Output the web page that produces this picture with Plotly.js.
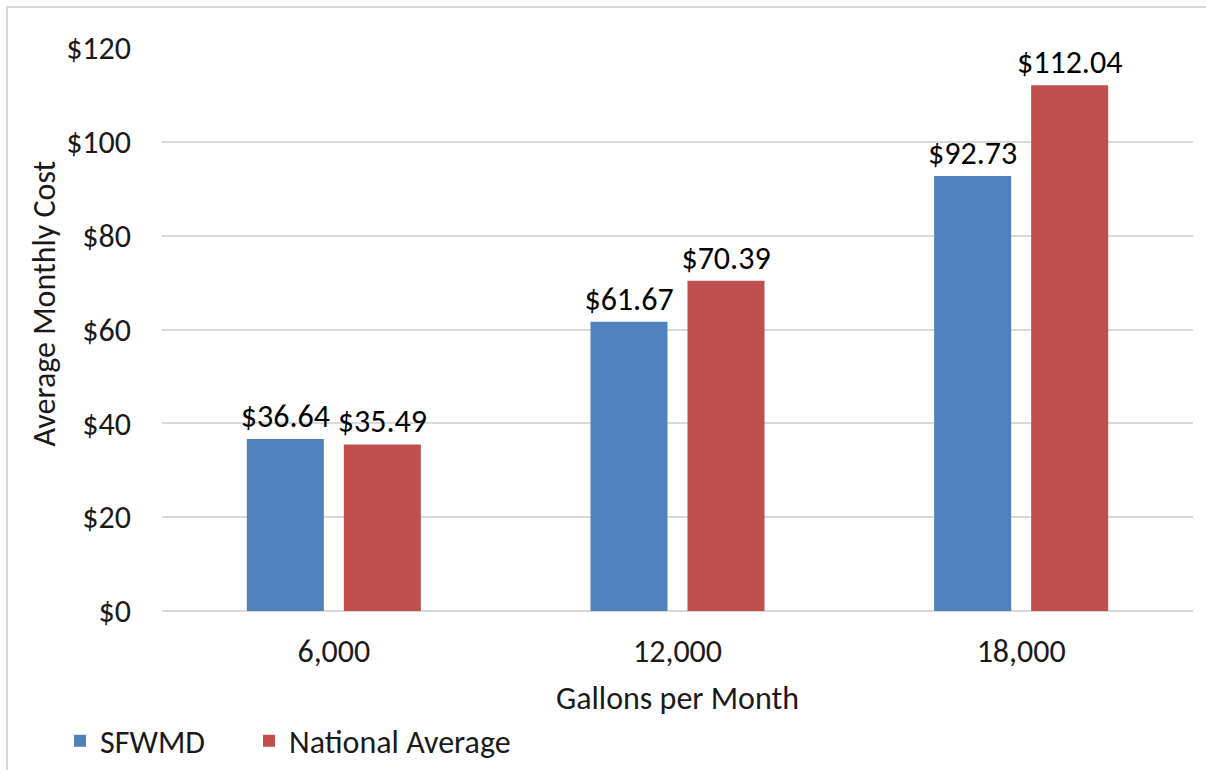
<!DOCTYPE html>
<html>
<head>
<meta charset="utf-8">
<script src="https://cdn.plot.ly/plotly-3.0.1.min.js"></script>
<style>
  html, body { margin: 0; padding: 0; background: #ffffff; }
  #chart { width: 1206px; height: 770px; }
</style>
</head>
<body>
<div id="chart"></div>
<script>
const categories = ["6,000", "12,000", "18,000"];
const sfwmd = [36.64, 61.67, 92.73];
const nationalAverage = [35.49, 70.39, 112.04];
const seriesNames = ["SFWMD", "National Average"];
const yTickValues = [0, 20, 40, 60, 80, 100, 120];
const yTickLabels = ["$0", "$20", "$40", "$60", "$80", "$100", "$120"];

const FONT = "Carlito, Calibri, 'Open Sans', sans-serif";
const FS = 32;

const traces = [
  {
    type: "bar", name: seriesNames[0], x: categories, y: sfwmd,
    marker: { color: "#4F81BD" },
    texttemplate: "$%{y:.2f}", textposition: "outside", cliponaxis: false,
    constraintext: "none",
    textfont: { family: FONT, size: FS, color: "#000000" },
    hoverinfo: "skip",
    legend: "legend"
  },
  {
    type: "bar", name: seriesNames[1], x: categories, y: nationalAverage,
    marker: { color: "#C0504D" },
    texttemplate: "$%{y:.2f}", textposition: "outside", cliponaxis: false,
    constraintext: "none",
    textfont: { family: FONT, size: FS, color: "#000000" },
    hoverinfo: "skip",
    legend: "legend2"
  }
];

const legendBase = {
  orientation: "h",
  yanchor: "middle", y: -0.231,
  xanchor: "left",
  font: { family: FONT, size: FS, color: "#1a1a1a" },
  bgcolor: "rgba(0,0,0,0)"
};

const layout = {
  width: 1206, height: 770,
  margin: { l: 162, r: 13, t: 48, b: 159, autoexpand: false },
  paper_bgcolor: "#ffffff", plot_bgcolor: "#ffffff",
  font: { family: FONT, size: FS, color: "#1a1a1a" },
  barmode: "group",
  bargap: 0.4355,
  bargroupgap: 0.206,
  showlegend: true,
  legend: Object.assign({}, legendBase, { x: -0.0989 }),
  legend2: Object.assign({}, legendBase, { x: 0.0844 }),
  xaxis: {
    type: "category",
    showgrid: false, zeroline: false, showline: false,
    ticks: "", ticklabelstandoff: 18,
    tickfont: { family: FONT, size: FS, color: "#1a1a1a" },
    title: { text: "Gallons per Month", font: { family: FONT, size: FS, color: "#1a1a1a" }, standoff: 16 }
  },
  yaxis: {
    range: [0, 120],
    tickvals: yTickValues, ticktext: yTickLabels,
    showgrid: true, gridcolor: "#D9D9D9", gridwidth: 2,
    zeroline: true, zerolinecolor: "#D9D9D9", zerolinewidth: 2,
    showline: false, ticks: "", ticklabelstandoff: 30,
    tickfont: { family: FONT, size: FS, color: "#1a1a1a" }
  },
  annotations: [
    {
      text: "Average Monthly Cost", textangle: -90,
      xref: "paper", yref: "paper",
      x: -0.1135, xanchor: "center",
      y: 0.546, yanchor: "middle",
      showarrow: false,
      font: { family: FONT, size: FS, color: "#1a1a1a" }
    }
  ],
  shapes: [
    {
      type: "rect", xref: "paper", yref: "paper",
      x0: -0.1503, x1: 1.1, y0: -0.4, y1: 1.0728,
      line: { color: "#D9D9D9", width: 2 }, fillcolor: "rgba(0,0,0,0)",
      layer: "below"
    }
  ]
};

Plotly.newPlot("chart", traces, layout, { displayModeBar: false, staticPlot: true });
</script>
</body>
</html>
